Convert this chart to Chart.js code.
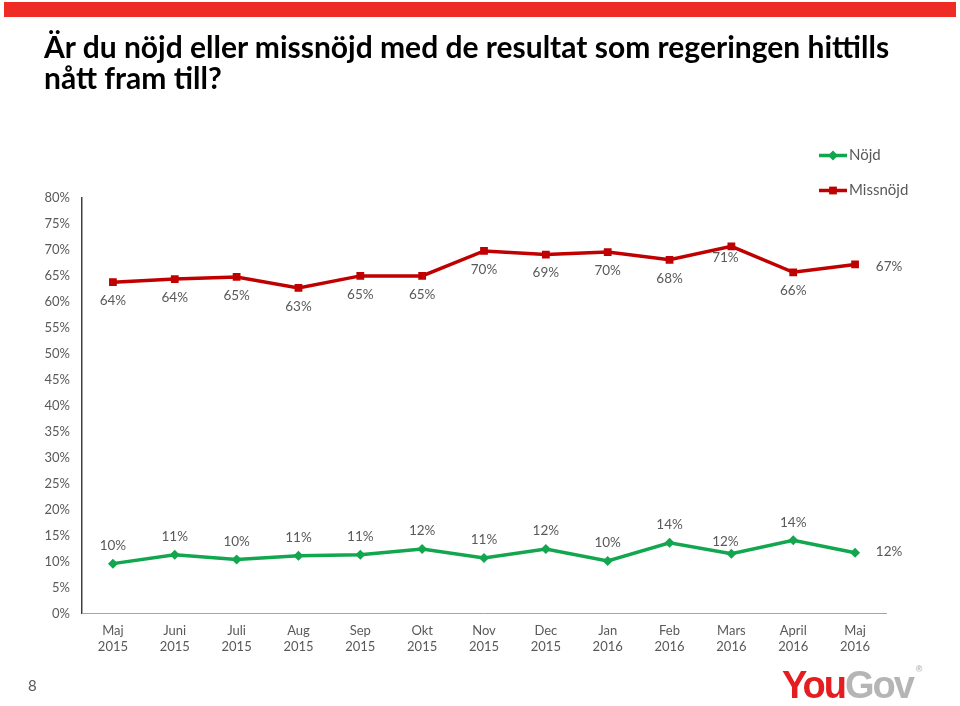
<html>
<head>
<meta charset="utf-8">
<script src="https://cdn.jsdelivr.net/npm/chart.js@4.4.1/dist/chart.umd.min.js"></script>
<style>
    body { margin: 0; width: 960px; height: 706px; position: relative; background: #fff; overflow: hidden; font-family: Lato, "Open Sans", sans-serif; }
    #chart { position: absolute; left: 0; top: 0; }
    .topbar { position: absolute; left: 4px; top: 2px; width: 952px; height: 15px; background: #EE2B24; }
    .title { position: absolute; left: 44px; top: 31px; font-size: 30px; font-weight: bold; line-height: 31px; color: #000; }
    .page { position: absolute; left: 28px; top: 676px; font-size: 15px; color: #595959; }
    .logo { position: absolute; left: 782px; top: 664px; font-family: "Liberation Sans", Arial, sans-serif; font-size: 38px; font-weight: bold; letter-spacing: -2px; }
    .logo .you { color: #E41E20; }
    .logo .gov { color: #B5B5B5; }
    .logo sup { font-size: 9px; color: #B5B5B5; letter-spacing: 0; vertical-align: 26px; margin-left: 3px; }
</style>
</head>
<body>
<canvas id="chart" width="960" height="706"></canvas>
<div class="topbar"></div>
<div class="title">Är du nöjd eller missnöjd med de resultat som regeringen hittills<br>nått fram till?</div>
<div class="page">8</div>
<div class="logo"><span class="you">You</span><span class="gov">Gov</span><sup>®</sup></div>
<script>
    // tick labels
    var months = ["Maj", "Juni", "Juli", "Aug", "Sep", "Okt", "Nov", "Dec", "Jan", "Feb", "Mars", "April", "Maj"];
    var years = ["2015", "2015", "2015", "2015", "2015", "2015", "2015", "2015", "2016", "2016", "2016", "2016", "2016"];

    // series values (percent)
    var nojd = [9.6, 11.3, 10.4, 11.1, 11.3, 12.4, 10.7, 12.4, 10.1, 13.6, 11.5, 14.1, 11.7];
    var missnojd = [63.8, 64.4, 64.8, 62.7, 65.0, 65.0, 69.8, 69.1, 69.6, 68.1, 70.7, 65.7, 67.2];

    var labels = months.map(function (m, i) { return [m, years[i]]; });
    var grey = "#595959";

    // draws the value labels: Missnöjd below, Nöjd above, last point to the right
    var valueLabels = {
        id: "valueLabels",
        afterDatasetsDraw: function (chart) {
            var ctx = chart.ctx;
            ctx.save();
            ctx.font = "13.5px Lato";
            ctx.fillStyle = grey;
            ctx.textAlign = "center";
            ctx.textBaseline = "middle";
            chart.data.datasets.forEach(function (ds, di) {
                var meta = chart.getDatasetMeta(di);
                var below = ds.label === "Missnöjd";
                meta.data.forEach(function (pt, i) {
                    var x = pt.x, y = pt.y;
                    if (i === ds.data.length - 1) {
                        x += 34; y += below ? 2 : -1;
                    } else if (i === 10) {
                        x -= 6; y += below ? 11 : -12;
                    } else {
                        y += below ? 18.5 : -18;
                    }
                    ctx.fillText(Math.round(ds.data[i]) + "%", x, y);
                });
            });
            ctx.restore();
        }
    };

    // legend with line + marker, top right
    var lineLegend = {
        id: "lineLegend",
        afterDraw: function (chart) {
            var ctx = chart.ctx;
            var x0 = chart.chartArea.right - 67;
            ctx.save();
            chart.data.datasets.forEach(function (ds, i) {
                var y = 155.5 + i * 35;
                ctx.strokeStyle = ds.borderColor;
                ctx.lineWidth = 3.5;
                ctx.beginPath();
                ctx.moveTo(x0, y);
                ctx.lineTo(x0 + 28, y);
                ctx.stroke();
                ctx.fillStyle = ds.borderColor;
                Chart.helpers.drawPoint(ctx, { pointStyle: ds.pointStyle, radius: ds.pointRadius, borderWidth: 0 }, x0 + 14, y);
                ctx.fillStyle = grey;
                ctx.font = "15px Lato";
                ctx.textBaseline = "middle";
                ctx.fillText(ds.label, x0 + 30, y);
            });
            ctx.restore();
        }
    };

    var myChart = new Chart(document.getElementById("chart"), {
        type: "line",
        data: {
            labels: labels,
            datasets: [{
                label: "Nöjd",
                data: nojd,
                borderColor: "#12A64F",
                backgroundColor: "#12A64F",
                borderWidth: 3.5,
                pointStyle: "rectRot",
                pointRadius: 5,
                pointBorderWidth: 0,
                tension: 0
            }, {
                label: "Missnöjd",
                data: missnojd,
                borderColor: "#C00000",
                backgroundColor: "#C00000",
                borderWidth: 3.5,
                pointStyle: "rect",
                pointRadius: 5.5,
                pointBorderWidth: 0,
                tension: 0
            }]
        },
        options: {
            responsive: false,
            animation: false,
            layout: { padding: { top: 198, right: 74, bottom: 0, left: 0 } },
            plugins: { legend: { display: false }, tooltip: { enabled: false } },
            scales: {
                y: {
                    min: 0,
                    max: 80,
                    ticks: {
                        stepSize: 5,
                        color: grey,
                        padding: 12,
                        font: { family: "Lato", size: 13 },
                        callback: function (v) { return v + "%"; }
                    },
                    grid: { display: false, drawTicks: false },
                    border: { display: true, color: "#404040", width: 1.5 },
                    afterFit: function (s) { s.width = 82; }
                },
                x: {
                    offset: true,
                    ticks: {
                        color: grey,
                        padding: 9,
                        maxRotation: 0,
                        autoSkip: false,
                        font: { family: "Lato", size: 13, lineHeight: 1.23 }
                    },
                    grid: { display: false, drawTicks: false },
                    border: { display: true, color: "#A6A6A6", width: 1 },
                    afterFit: function (s) { s.height = 92.5; }
                }
            }
        },
        plugins: [valueLabels, lineLegend]
    });
</script>
</body>
</html>
